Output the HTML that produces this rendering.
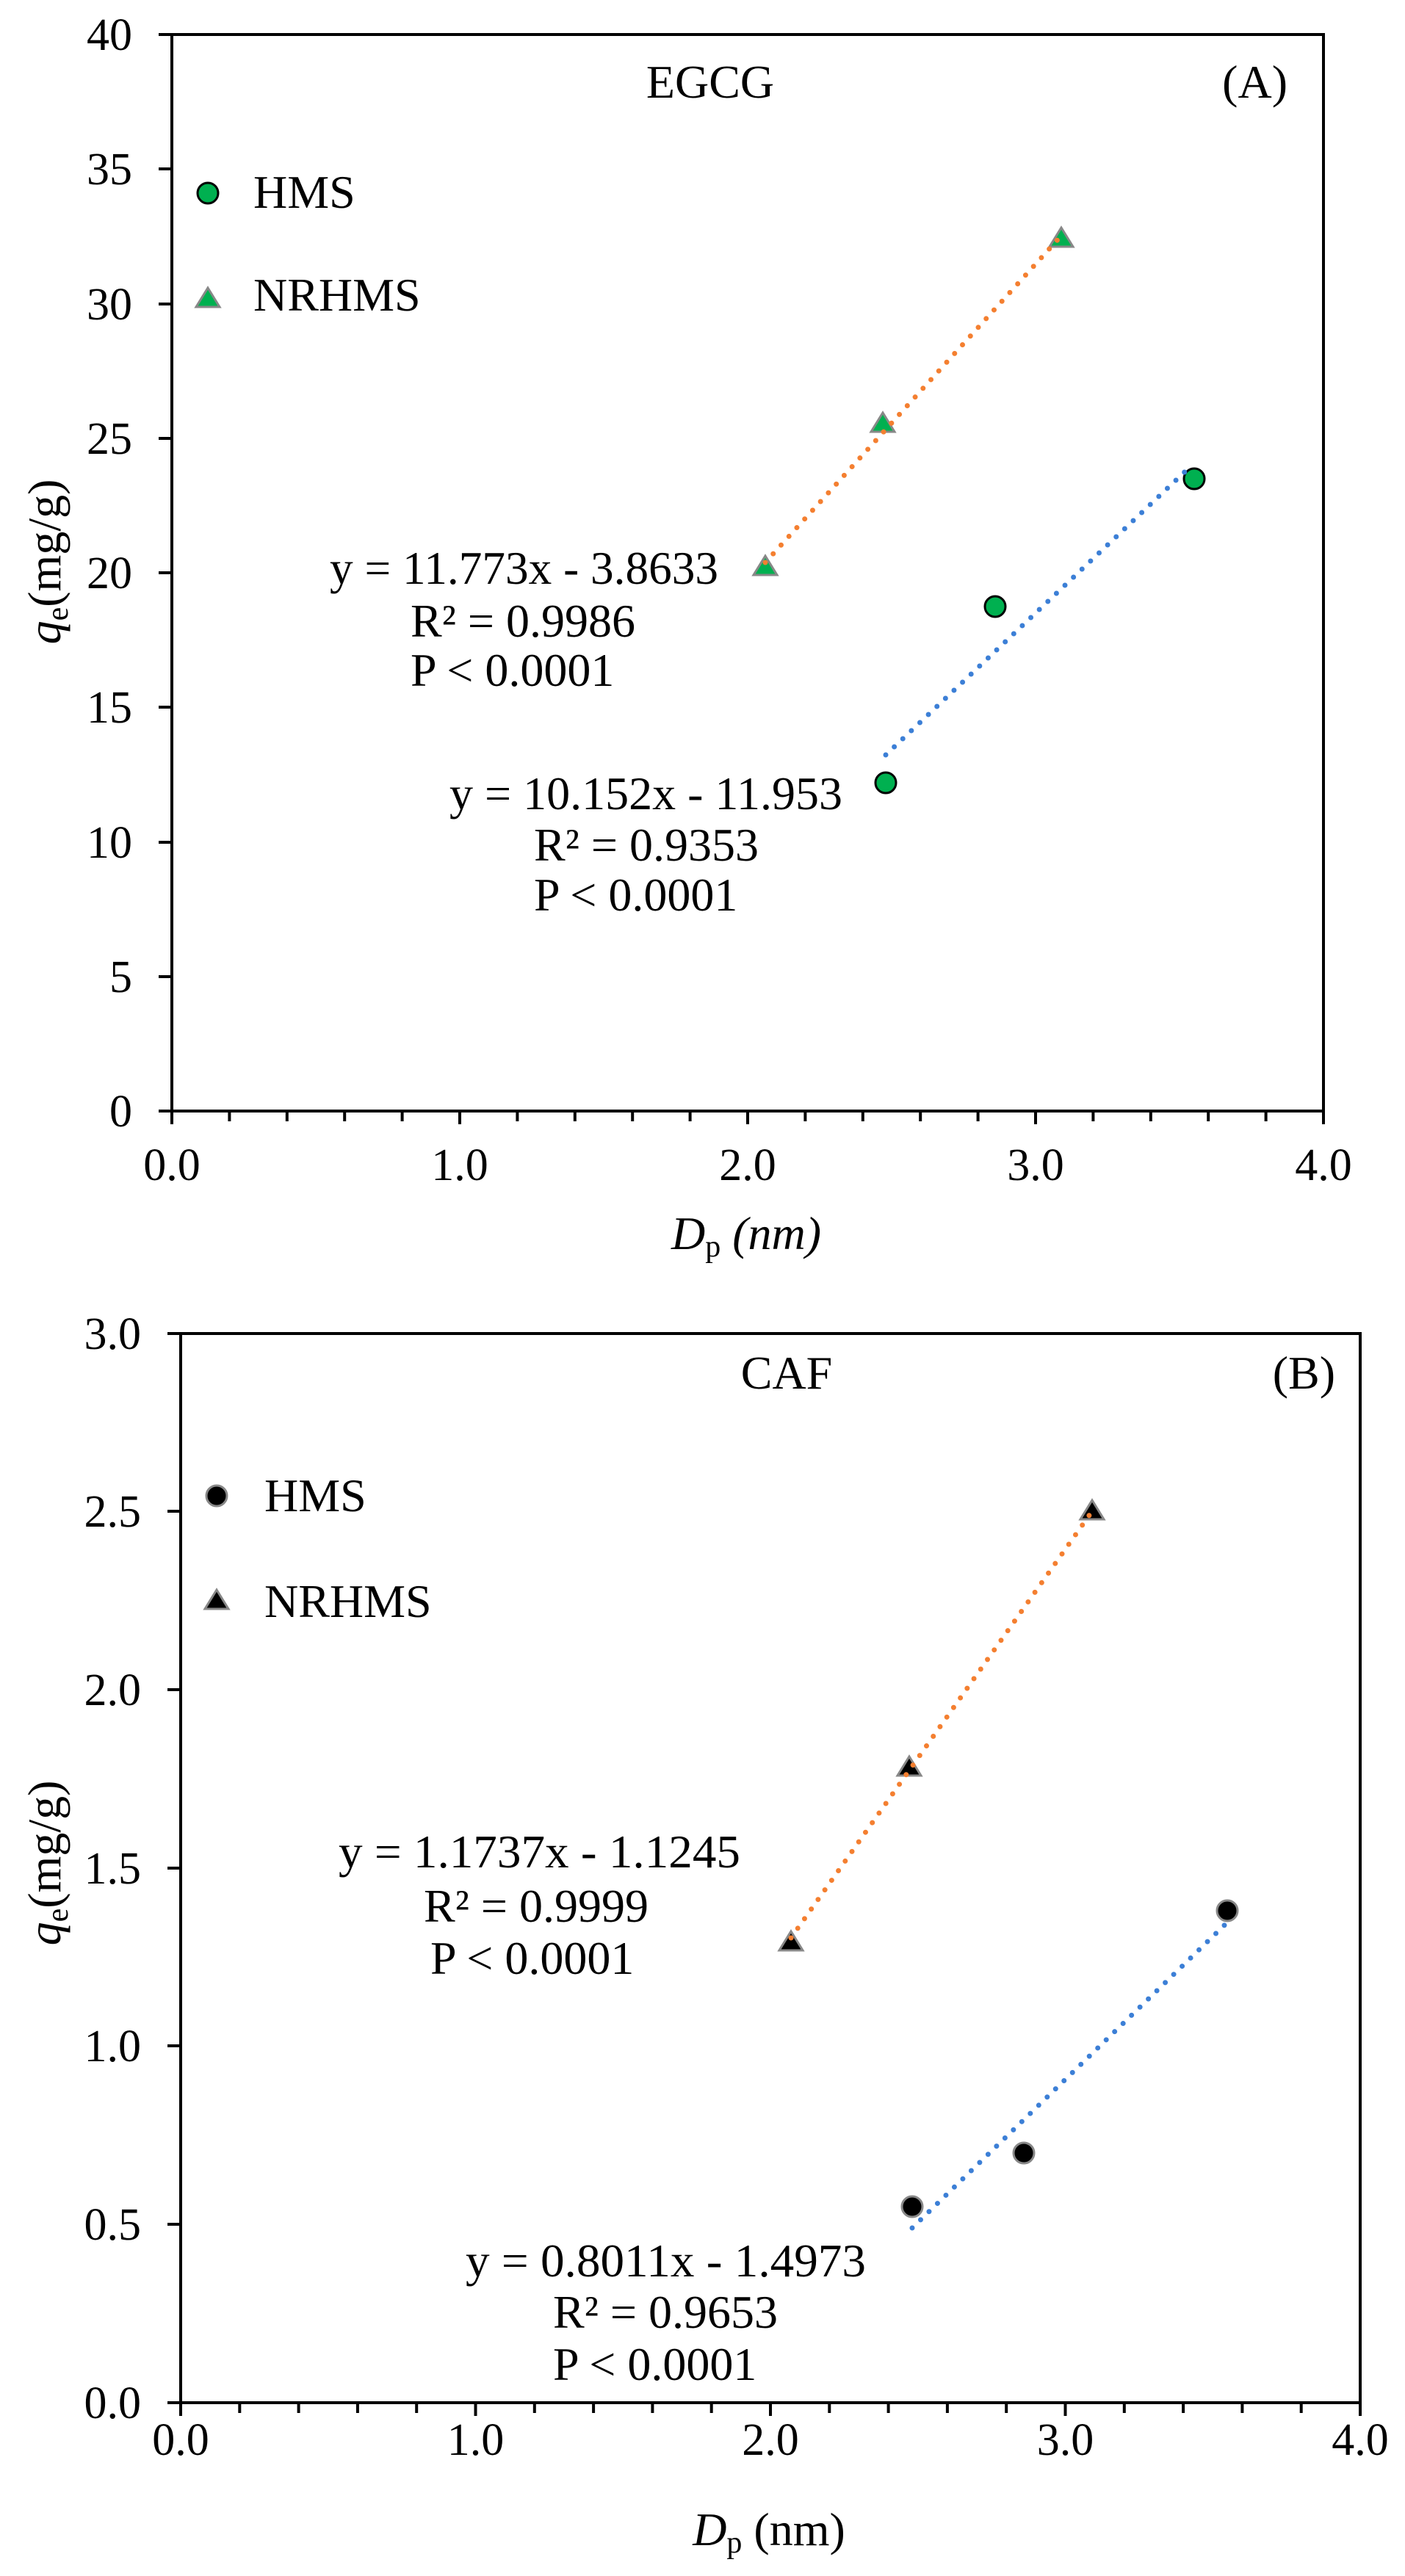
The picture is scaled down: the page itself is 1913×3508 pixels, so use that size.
<!DOCTYPE html>
<html><head><meta charset="utf-8"><style>html,body{margin:0;padding:0;background:#fff}svg{display:block}text{font-family:"Liberation Serif","Times New Roman",serif;fill:#000}</style></head>
<body>
<svg width="1913" height="3508" viewBox="0 0 1913 3508" xmlns="http://www.w3.org/2000/svg">
<rect width="1913" height="3508" fill="#fff"/>
<!-- ===== Panel A ===== -->
<g stroke="#000" stroke-width="4" fill="none">
<path d="M234 47 V1513 H1802 V47 H216"/>
<path d="M216 1513H234M216 1330H234M216 1147H234M216 963H234M216 780H234M216 597H234M216 414H234M216 230H234"/>
<path d="M234 1513v18M626 1513v18M1018 1513v18M1410 1513v18M1802 1513v18"/>
<path d="M312.4 1513v14M390.8 1513v14M469.2 1513v14M547.6 1513v14M704.4 1513v14M782.8 1513v14M861.2 1513v14M939.6 1513v14M1096.4 1513v14M1174.8 1513v14M1253.2 1513v14M1331.6 1513v14M1488.4 1513v14M1566.8 1513v14M1645.2 1513v14M1723.6 1513v14"/>
</g>
<g font-size="62" text-anchor="end">
<text x="180" y="1534">0</text><text x="180" y="1351">5</text><text x="180" y="1168">10</text><text x="180" y="984">15</text><text x="180" y="801">20</text><text x="180" y="618">25</text><text x="180" y="435">30</text><text x="180" y="251">35</text><text x="180" y="68">40</text>
</g>
<g font-size="62" text-anchor="middle">
<text x="234" y="1607">0.0</text><text x="626" y="1607">1.0</text><text x="1018" y="1607">2.0</text><text x="1410" y="1607">3.0</text><text x="1802" y="1607">4.0</text>
</g>
<text x="1016" y="1701" font-size="64" text-anchor="middle"><tspan font-style="italic">D</tspan><tspan font-size="42" dy="10">p</tspan><tspan dy="-10" font-style="italic"> (nm)</tspan></text>
<text transform="translate(82,765) rotate(-90)" font-size="64" text-anchor="middle"><tspan font-style="italic">q</tspan><tspan font-size="42" dy="10">e</tspan><tspan dy="-10">(mg/g)</tspan></text>
<text x="967" y="133" font-size="64" text-anchor="middle">EGCG</text>
<text x="1753" y="133" font-size="64" text-anchor="end">(A)</text>
<circle cx="283" cy="263" r="14" fill="#00b050" stroke="#000" stroke-width="3"/>
<text x="345" y="283" font-size="64">HMS</text>
<polygon points="283,392 299,418 267,418" fill="#00b050" stroke="#888" stroke-width="3"/>
<text x="345" y="423" font-size="64">NRHMS</text>
<!-- markers A -->
<g fill="#00b050" stroke="#000" stroke-width="3">
<circle cx="1206" cy="1066" r="14"/><circle cx="1355" cy="826" r="14"/><circle cx="1626" cy="652" r="14"/>
</g>
<g fill="#00b050" stroke="#888" stroke-width="3">
<polygon points="1042,757 1058,783 1026,783"/><polygon points="1202,562 1218,588 1186,588"/><polygon points="1445,310 1461,336 1429,336"/>
</g>
<g stroke-width="7" stroke-linecap="round" stroke-dasharray="0 16" fill="none">
<line x1="1042" y1="766" x2="1445" y2="321" stroke="#f47f30"/>
<line x1="1206" y1="1028" x2="1618" y2="638" stroke="#3c7fd6"/>
</g>
<g font-size="64">
<text x="449" y="795" textLength="529" lengthAdjust="spacingAndGlyphs">y = 11.773x - 3.8633</text>
<text x="559" y="867">R² = 0.9986</text>
<text x="559" y="934">P &lt; 0.0001</text>
<text x="612" y="1102" textLength="535" lengthAdjust="spacingAndGlyphs">y = 10.152x - 11.953</text>
<text x="727" y="1172">R² = 0.9353</text>
<text x="727" y="1240">P &lt; 0.0001</text>
</g>
<!-- ===== Panel B ===== -->
<g stroke="#000" stroke-width="4" fill="none">
<path d="M246 1816 V3272 H1852 V1816 H228"/>
<path d="M228 3272H246M228 3029H246M228 2786H246M228 2544H246M228 2301H246M228 2058H246"/>
<path d="M246 3272v18M647.5 3272v18M1049 3272v18M1450.5 3272v18M1852 3272v18"/>
<path d="M326.3 3272v14M406.6 3272v14M486.9 3272v14M567.2 3272v14M727.8 3272v14M808.1 3272v14M888.4 3272v14M968.7 3272v14M1129.3 3272v14M1209.6 3272v14M1289.9 3272v14M1370.2 3272v14M1530.8 3272v14M1611.1 3272v14M1691.4 3272v14M1771.7 3272v14"/>
</g>
<g font-size="62" text-anchor="end">
<text x="192" y="3293">0.0</text><text x="192" y="3050">0.5</text><text x="192" y="2807">1.0</text><text x="192" y="2565">1.5</text><text x="192" y="2322">2.0</text><text x="192" y="2079">2.5</text><text x="192" y="1837">3.0</text>
</g>
<g font-size="62" text-anchor="middle">
<text x="246" y="3343">0.0</text><text x="647.5" y="3343">1.0</text><text x="1049" y="3343">2.0</text><text x="1450.5" y="3343">3.0</text><text x="1852" y="3343">4.0</text>
</g>
<text x="1047" y="3466" font-size="64" text-anchor="middle"><tspan font-style="italic">D</tspan><tspan font-size="42" dy="10">p</tspan><tspan dy="-10"> (nm)</tspan></text>
<text transform="translate(82,2537) rotate(-90)" font-size="64" text-anchor="middle"><tspan font-style="italic">q</tspan><tspan font-size="42" dy="10">e</tspan><tspan dy="-10">(mg/g)</tspan></text>
<text x="1071" y="1891" font-size="64" text-anchor="middle">CAF</text>
<text x="1818" y="1891" font-size="64" text-anchor="end">(B)</text>
<circle cx="295" cy="2037" r="14" fill="#000" stroke="#888" stroke-width="3"/>
<text x="360" y="2058" font-size="64">HMS</text>
<polygon points="295,2165 311,2191 279,2191" fill="#000" stroke="#888" stroke-width="3"/>
<text x="360" y="2202" font-size="64">NRHMS</text>
<g fill="#000" stroke="#888" stroke-width="3">
<circle cx="1242" cy="3005" r="14"/><circle cx="1394" cy="2932" r="14"/><circle cx="1671" cy="2602" r="14"/>
<polygon points="1077,2630 1093,2656 1061,2656"/><polygon points="1238,2392 1254,2418 1222,2418"/><polygon points="1487,2043 1503,2069 1471,2069"/>
</g>
<g stroke-width="7" stroke-linecap="round" stroke-dasharray="0 16" fill="none">
<line x1="1077" y1="2639" x2="1487" y2="2058" stroke="#f47f30"/>
<line x1="1242" y1="3034" x2="1671" y2="2618" stroke="#3c7fd6"/>
</g>
<g font-size="64">
<text x="461" y="2543" textLength="547" lengthAdjust="spacingAndGlyphs">y = 1.1737x - 1.1245</text>
<text x="577" y="2617">R² = 0.9999</text>
<text x="586" y="2688">P &lt; 0.0001</text>
<text x="634" y="3100" textLength="545" lengthAdjust="spacingAndGlyphs">y = 0.8011x - 1.4973</text>
<text x="753" y="3170">R² = 0.9653</text>
<text x="753" y="3241">P &lt; 0.0001</text>
</g>
</svg>
</body></html>
